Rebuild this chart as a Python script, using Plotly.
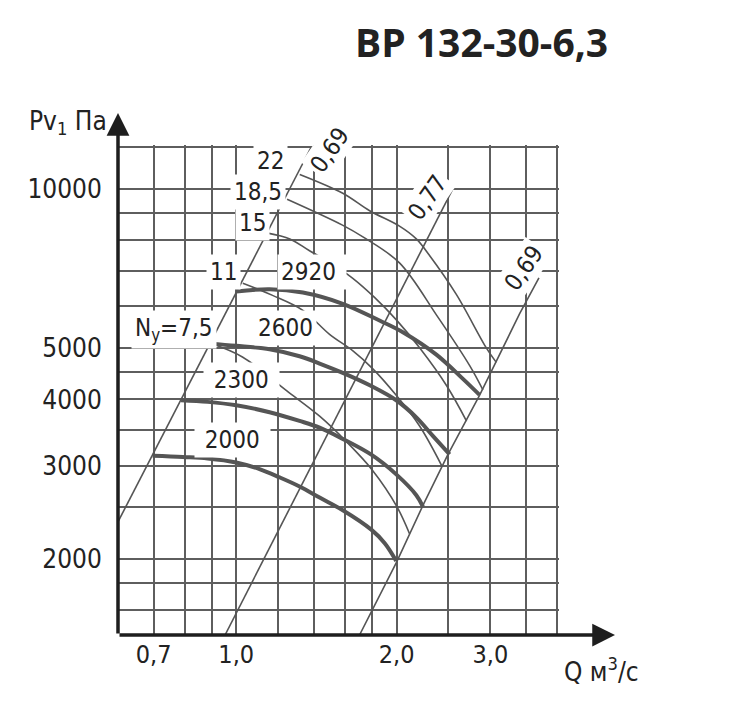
import numpy as np
import plotly.graph_objects as go

# ---------------- data ----------------
# grid positions and tick labels
x_grid = [0.6, 0.7, 0.8, 0.9, 1.0, 1.2, 1.4, 1.6, 1.8, 2.0, 2.5, 3.0, 3.5, 4.0]
x_tick_text = {0.7: "0,7", 1.0: "1,0", 2.0: "2,0", 3.0: "3,0"}
y_grid = [1600, 1800, 2000, 2500, 3000, 3500, 4000, 4500, 5000,
          6000, 7000, 8000, 9000, 10000, 12000]
y_tick_text = {2000: "2000", 3000: "3000", 4000: "4000", 5000: "5000", 10000: "10000"}

# fan characteristics (thick), rpm
n2000_q = [0.697, 0.794, 0.884, 1.0, 1.106, 1.206, 1.315, 1.434, 1.585, 1.793, 1.90, 1.997]
n2000_p = [3130, 3113, 3094, 3041, 2954, 2850, 2739, 2610, 2470, 2270, 2140, 1981]
n2300_q = [0.788, 0.884, 1.0, 1.155, 1.315, 1.434, 1.585, 1.793, 1.997, 2.178, 2.241]
n2300_p = [3986, 3958, 3899, 3784, 3643, 3538, 3368, 3145, 2887, 2637, 2510]
n2600_q = [0.891, 1.0, 1.155, 1.315, 1.434, 1.585, 1.793, 1.997, 2.178, 2.339, 2.515]
n2600_p = [5100, 5053, 4977, 4827, 4677, 4490, 4240, 3986, 3700, 3414, 3150]
n2920_q = [1.0, 1.155, 1.334, 1.585, 1.858, 2.055, 2.375, 2.664, 2.862]
n2920_p = [6400, 6462, 6370, 6066, 5639, 5360, 4862, 4374, 4080]

# motor power lines (thin), kW
ny75_q = [0.898, 1.029, 1.243, 1.434, 1.611, 1.803, 2.0, 2.115]
ny75_p = [5100, 4806, 4155, 3719, 3327, 2937, 2515, 2230]
ny11_q = [1.029, 1.170, 1.334, 1.497, 1.656, 1.805, 1.997, 2.209, 2.43]
ny11_p = [6630, 6291, 5895, 5310, 4941, 4570, 4073, 3563, 3000]
ny15_q = [1.146, 1.261, 1.373, 1.516, 1.653, 1.818, 2.0, 2.209, 2.483, 2.706]
ny15_p = [8250, 8044, 7638, 7215, 6785, 6238, 5649, 5007, 4245, 3640]
ny185_q = [1.246, 1.583, 1.729, 2.025, 2.377, 2.743, 2.904]
ny185_p = [9559, 8540, 8113, 7248, 5774, 4634, 4170]
ny22_q = [1.316, 1.585, 1.780, 2.025, 2.178, 2.306, 2.589, 2.947, 3.077]
ny22_p = [10650, 9812, 9094, 8503, 8044, 7485, 6318, 5007, 4700]

# efficiency lines
eff_left_q = [0.6, 1.383]
eff_left_p = [2348, 12000]
eff_mid_q = [0.953, 2.55]
eff_mid_p = [1435, 10000]
eff_right_q = [1.704, 2.0, 2.241, 2.496, 2.862, 3.404, 3.70]
eff_right_p = [1435, 1970, 2522, 3145, 4073, 5809, 6786]

# labels: (text, Q, P)
NB = "\u00a0"
curve_labels = [
    ("22", 1.162, 11270), ("18,5", 1.099, 9850), ("15", 1.075, 8624),
    ("11", 0.948, 6959), ("2920" + NB, 1.39, 6959), ("N<sub>y</sub>=7,5", 0.764, 5432),
    ("2600", 1.235, 5455), (NB + "2300" + NB, 1.021, 4345), (NB + "2000" + NB, 0.982, 3359),
]
eff_labels = [("0,69", 1.50, 11830), ("0,77", 2.286, 9600), ("0,69", 3.47, 7082)]

# ---------------- figure ----------------
FONT = "DejaVu Sans Condensed, Liberation Sans Narrow, sans-serif"
LINE = "#555555"
GRID = "#5e5e5e"
TXT = "#222222"

fig = go.Figure()

def add_line(q, p, w):
    fig.add_trace(go.Scatter(x=q, y=p, mode="lines",
                             line=dict(color=LINE, width=w, shape="spline", smoothing=1.0),
                             hoverinfo="skip", showlegend=False))

for q, p in [(eff_left_q, eff_left_p), (eff_mid_q, eff_mid_p), (eff_right_q, eff_right_p)]:
    fig.add_trace(go.Scatter(x=q, y=p, mode="lines", line=dict(color=LINE, width=1.6),
                             hoverinfo="skip", showlegend=False))
for q, p in [(ny75_q, ny75_p), (ny11_q, ny11_p), (ny15_q, ny15_p), (ny185_q, ny185_p), (ny22_q, ny22_p)]:
    add_line(q, p, 1.6)
for q, p in [(n2000_q, n2000_p), (n2300_q, n2300_p), (n2600_q, n2600_p), (n2920_q, n2920_p)]:
    add_line(q, p, 4)

annotations = []
for t, q, p in curve_labels:
    annotations.append(dict(x=np.log10(q), y=np.log10(p), xref="x", yref="y", text=t, showarrow=False,
                            font=dict(family=FONT, size=24, color=TXT), bgcolor="white", borderpad=3))
for t, q, p in eff_labels:
    annotations.append(dict(x=np.log10(q), y=np.log10(p), xref="x", yref="y", text=t, showarrow=False,
                            textangle=-55, font=dict(family=FONT, size=24, color=TXT),
                            bgcolor="white", borderpad=2))

# axes with arrows
annotations.append(dict(x=0, y=1.0653, xref="paper", yref="paper", ax=0, ay=522, axref="pixel", ayref="pixel",
                        text="", showarrow=True, arrowhead=2, arrowsize=1.3, arrowwidth=3.5, arrowcolor="#1e1e1e"))
annotations.append(dict(x=1.127, y=0, xref="paper", yref="paper", ax=-497, ay=0, axref="pixel", ayref="pixel",
                        text="", showarrow=True, arrowhead=2, arrowsize=1.3, arrowwidth=3.5, arrowcolor="#1e1e1e"))

# axis titles and chart title
annotations.append(dict(x=-0.2063, y=1.045, xref="paper", yref="paper", xanchor="left", yanchor="middle",
                        text="Pv<sub>1</sub> Па", showarrow=False, font=dict(family=FONT, size=26, color=TXT)))
annotations.append(dict(x=1.0068, y=-0.0714, xref="paper", yref="paper", xanchor="left", yanchor="middle",
                        text="Q м<sup>3</sup>/с", showarrow=False, font=dict(family=FONT, size=26, color=TXT)))
annotations.append(dict(x=0.825, y=1.212, xref="paper", yref="paper", xanchor="center", yanchor="middle",
                        text="<b>ВР 132-30-6,3</b>", showarrow=False,
                        font=dict(family="Open Sans, Noto Sans, sans-serif", size=39, color=TXT)))

# the page body has an 8px default margin, so the figure is offset by it
fig.update_layout(
    width=728, height=712,
    margin=dict(l=110, r=177, t=137, b=85),
    paper_bgcolor="white", plot_bgcolor="white",
    annotations=annotations,
    xaxis=dict(type="log", range=[np.log10(0.6), np.log10(4.035)], automargin=False,
               tickmode="array", tickvals=x_grid,
               ticktext=[x_tick_text.get(v, "") for v in x_grid],
               showgrid=True, gridcolor=GRID, gridwidth=2, zeroline=False, showline=False,
               ticks="", ticklabelstandoff=2,
               tickfont=dict(family=FONT, size=25, color=TXT)),
    yaxis=dict(type="log", range=[np.log10(1435), np.log10(12105)], automargin=False,
               tickmode="array", tickvals=y_grid,
               ticktext=[y_tick_text.get(v, "") for v in y_grid],
               showgrid=True, gridcolor=GRID, gridwidth=2, zeroline=False, showline=False,
               ticks="outside", ticklen=10, tickcolor="rgba(0,0,0,0)",
               tickfont=dict(family=FONT, size=26, color=TXT)),
)

fig.write_html("out.html")
